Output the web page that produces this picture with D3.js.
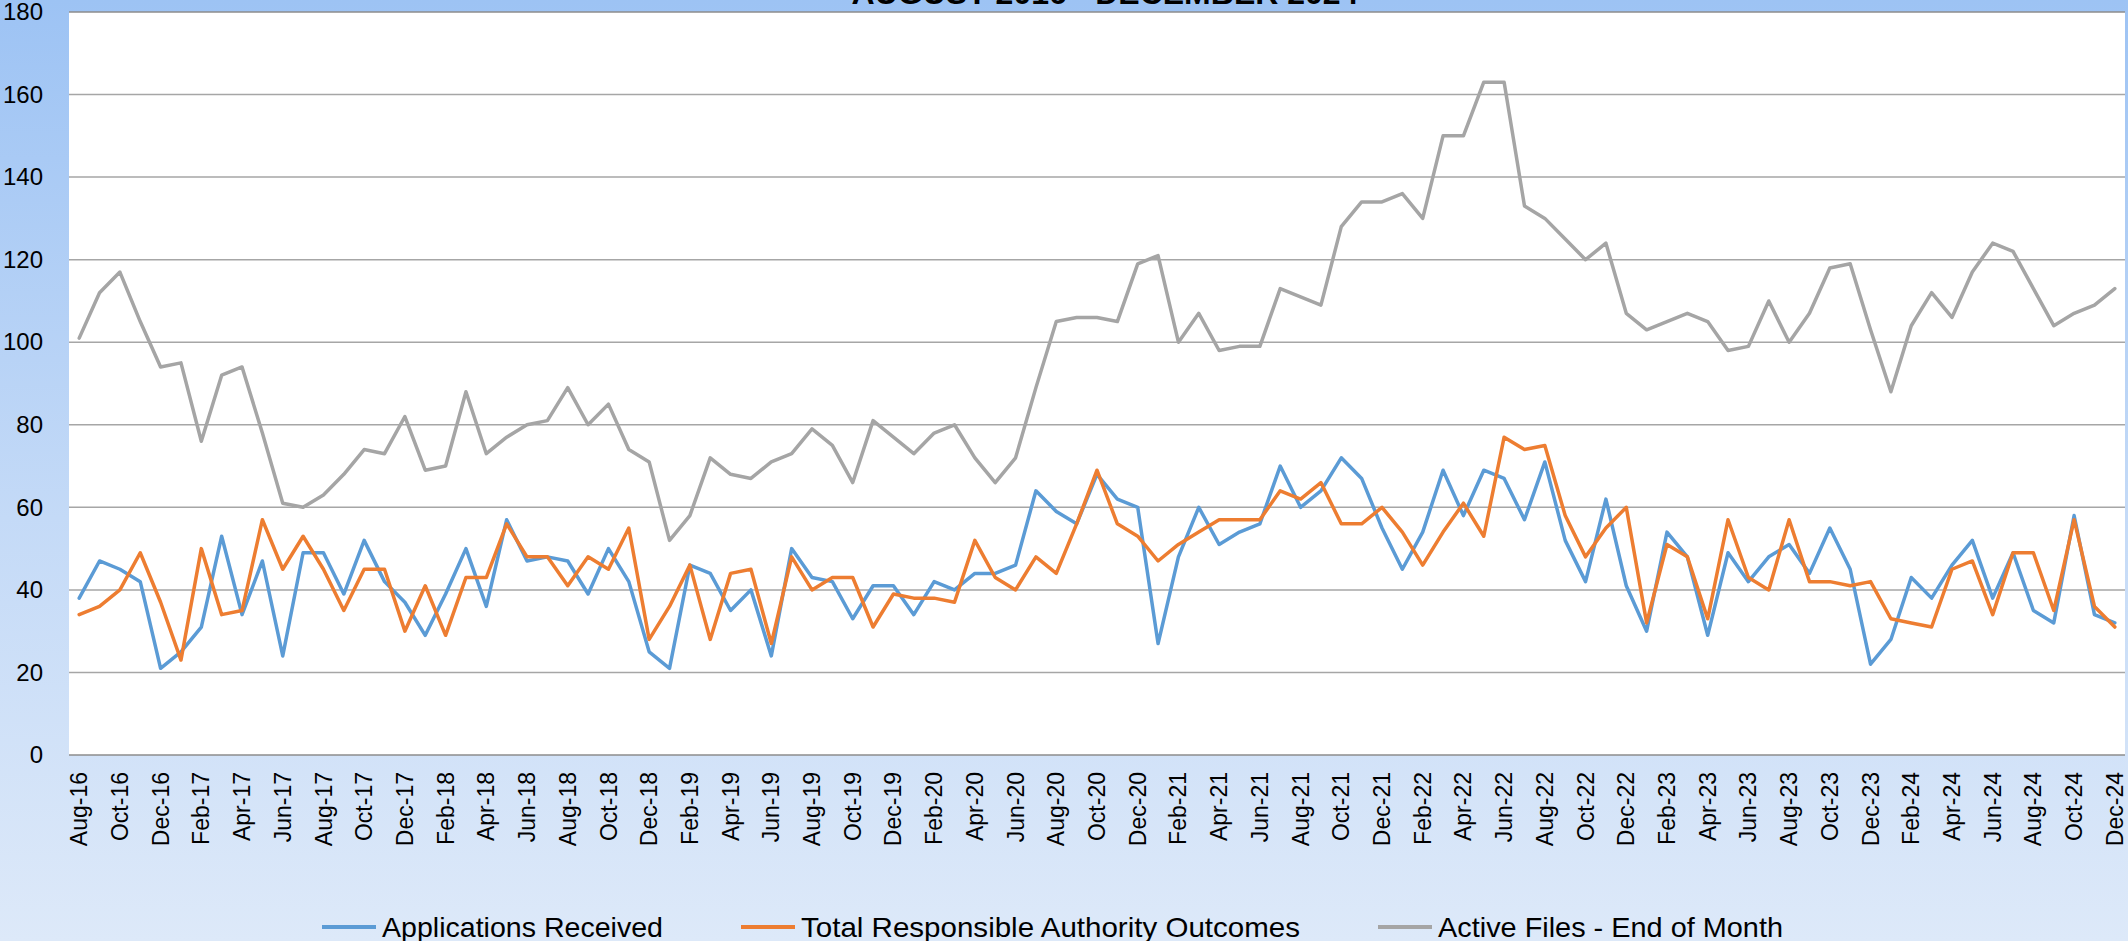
<!DOCTYPE html>
<html>
<head>
<meta charset="utf-8">
<script src="https://cdn.jsdelivr.net/npm/d3@7"></script>
<style>
    body { margin: 0; }
    svg { display: block; }
</style>
</head>
<body>
<div id="chart"></div>
<script>
const width = 2128;
const height = 941;
const plot = {left: 69, right: 2125, top: 12, bottom: 755};

const title = 'AUGUST 2016 - DECEMBER 2024';

// Months Aug-16 .. Dec-24, one category each.
const months = d3.timeMonth.range(new Date(2016, 7, 1), new Date(2025, 0, 1)).map(d3.timeFormat('%b-%y'));

const yTicks = [0, 20, 40, 60, 80, 100, 120, 140, 160, 180];

const applicationsReceived = [
    38, 47, 45, 42, 21, 25, 31, 53, 34, 47, 24, 49, 49, 39, 52, 42, 37, 29, 39, 50,
    36, 57, 47, 48, 47, 39, 50, 42, 25, 21, 46, 44, 35, 40, 24, 50, 43, 42, 33, 41,
    41, 34, 42, 40, 44, 44, 46, 64, 59, 56, 68, 62, 60, 27, 48, 60, 51, 54, 56, 70,
    60, 64, 72, 67, 55, 45, 54, 69, 58, 69, 67, 57, 71, 52, 42, 62, 41, 30, 54, 48,
    29, 49, 42, 48, 51, 44, 55, 45, 22, 28, 43, 38, 46, 52, 38, 49, 35, 32, 58, 34,
    32
];

const authorityOutcomes = [
    34, 36, 40, 49, 37, 23, 50, 34, 35, 57, 45, 53, 45, 35, 45, 45, 30, 41, 29, 43,
    43, 56, 48, 48, 41, 48, 45, 55, 28, 36, 46, 28, 44, 45, 27, 48, 40, 43, 43, 31,
    39, 38, 38, 37, 52, 43, 40, 48, 44, 56, 69, 56, 53, 47, 51, 54, 57, 57, 57, 64,
    62, 66, 56, 56, 60, 54, 46, 54, 61, 53, 77, 74, 75, 58, 48, 55, 60, 32, 51, 48,
    33, 57, 43, 40, 57, 42, 42, 41, 42, 33, 32, 31, 45, 47, 34, 49, 49, 35, 57, 36,
    31
];

const activeFiles = [
    101, 112, 117, 105, 94, 95, 76, 92, 94, 78, 61, 60, 63, 68, 74, 73, 82, 69, 70, 88,
    73, 77, 80, 81, 89, 80, 85, 74, 71, 52, 58, 72, 68, 67, 71, 73, 79, 75, 66, 81,
    77, 73, 78, 80, 72, 66, 72, 89, 105, 106, 106, 105, 119, 121, 100, 107, 98, 99, 99, 113,
    111, 109, 128, 134, 134, 136, 130, 150, 150, 163, 163, 133, 130, 125, 120, 124, 107, 103, 105, 107,
    105, 98, 99, 110, 100, 107, 118, 119, 103, 88, 104, 112, 106, 117, 124, 122, 113, 104, 107, 109,
    113
];

const series = [
    {name: 'Applications Received', values: applicationsReceived, color: '#5b9bd5', textWidth: 281},
    {name: 'Total Responsible Authority Outcomes', values: authorityOutcomes, color: '#ed7d31', textWidth: 499},
    {name: 'Active Files - End of Month', values: activeFiles, color: '#a5a5a5', textWidth: 345},
];

const svg = d3.select('#chart').append('svg')
    .attr('width', width)
    .attr('height', height)
    .style('font-family', '"Liberation Sans", Arial, sans-serif');

// Background gradient, light blue fading down.
const grad = svg.append('defs').append('linearGradient')
    .attr('id', 'bg')
    .attr('x1', 0).attr('y1', 0).attr('x2', 0).attr('y2', 1);
grad.append('stop').attr('offset', '0%').attr('stop-color', '#9dc3f4');
grad.append('stop').attr('offset', '55%').attr('stop-color', '#c4daf7');
grad.append('stop').attr('offset', '100%').attr('stop-color', '#dde9f9');

svg.append('rect')
    .attr('width', width)
    .attr('height', height)
    .attr('fill', 'url(#bg)');

svg.append('rect')
    .attr('x', plot.left)
    .attr('y', plot.top)
    .attr('width', plot.right - plot.left)
    .attr('height', plot.bottom - plot.top)
    .attr('fill', '#fff');

// Title, mostly cut off by the top edge.
svg.append('text')
    .attr('x', 1105)
    .attr('y', 4)
    .attr('text-anchor', 'middle')
    .style('font-size', '32px')
    .style('font-weight', 'bold')
    .text(title);

const x = d3.scaleBand()
    .domain(months)
    .range([plot.left, plot.right]);
const xc = (m) => x(m) + x.bandwidth() / 2;

const y = d3.scaleLinear()
    .domain([0, 180])
    .range([plot.bottom, plot.top]);

// Gridlines.
svg.append('g')
    .selectAll('line')
    .data(yTicks)
    .enter().append('line')
    .attr('x1', plot.left)
    .attr('x2', plot.right)
    .attr('y1', (d) => y(d))
    .attr('y2', (d) => y(d))
    .attr('stroke', (d) => (d === 0 || d === 180) ? '#8c8c8c' : '#a6a6a6')
    .attr('stroke-width', 1.5);

// y-axis labels.
svg.append('g')
    .attr('transform', `translate(${plot.left},0)`)
    .call(d3.axisLeft(y).tickValues(yTicks).tickSize(0).tickPadding(26))
    .call((g) => g.select('.domain').remove())
    .selectAll('text')
    .style('font-size', '24px')
    .style('font-family', '"Liberation Sans", Arial, sans-serif')
    .attr('fill', '#000');

// x-axis labels, every second month, rotated.
svg.append('g')
    .attr('transform', `translate(0,${plot.bottom})`)
    .call(d3.axisBottom(x).tickValues(months.filter((m, i) => i % 2 === 0)).tickSize(0))
    .call((g) => g.select('.domain').remove())
    .selectAll('text')
    .style('font-size', '23px')
    .style('font-family', '"Liberation Sans", Arial, sans-serif')
    .style('text-anchor', 'end')
    .attr('fill', '#000')
    .attr('x', -17)
    .attr('y', 0)
    .attr('dy', '0.35em')
    .attr('transform', 'rotate(-90)');

// Series lines.
const line = d3.line()
    .x((d, i) => xc(months[i]))
    .y((d) => y(d));

svg.append('g')
    .selectAll('path')
    .data(series)
    .enter().append('path')
    .attr('d', (s) => line(s.values))
    .attr('fill', 'none')
    .attr('stroke', (s) => s.color)
    .attr('stroke-width', 3.5)
    .attr('stroke-linejoin', 'round')
    .attr('stroke-linecap', 'round');

// Legend along the bottom.
const legend = svg.append('g').attr('transform', 'translate(322,927)');
let offset = 0;
for (const s of series) {
    const item = legend.append('g').attr('transform', `translate(${offset},0)`);
    item.append('line')
        .attr('x1', 0).attr('x2', 54)
        .attr('stroke', s.color)
        .attr('stroke-width', 4);
    item.append('text')
        .attr('x', 60)
        .attr('y', 10)
        .attr('textLength', s.textWidth)
        .attr('lengthAdjust', 'spacingAndGlyphs')
        .style('font-size', '28.5px')
        .text(s.name);
    offset += 60 + s.textWidth + 78;
}
</script>
</body>
</html>
